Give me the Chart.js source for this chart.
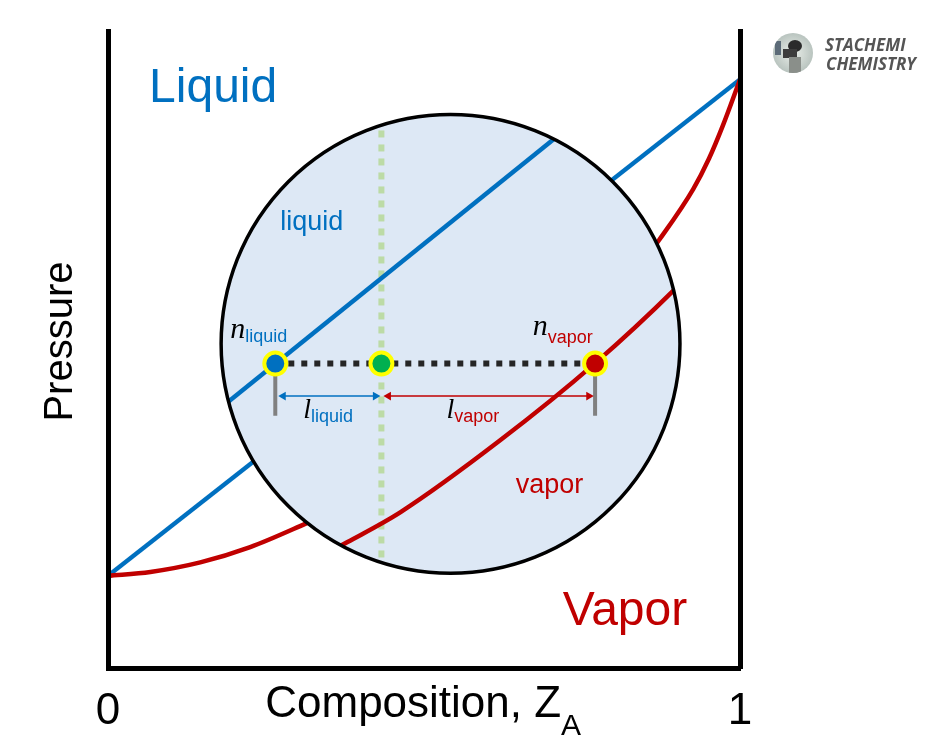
<!DOCTYPE html>
<html>
<head>
<meta charset="utf-8">
<script src="https://cdn.jsdelivr.net/npm/chart.js@4.4.1/dist/chart.umd.min.js"></script>
<style>
  body { margin: 0; background: #fff; }
  #wrap { width: 934px; height: 755px; }
</style>
</head>
<body>
<div id="wrap"><canvas id="myChart"></canvas></div>
<script>
// full diagram: bubble (liquid) line and dew (vapor) curve
const liquidX = [0, 1];
const liquidP = [0.145, 0.924];
const vaporX = [0, 0.067, 0.146, 0.225, 0.304, 0.45, 0.6, 0.75, 0.872, 0.926, 0.951, 0.973, 1];
const vaporP = [0.145, 0.151, 0.166, 0.19, 0.223, 0.29, 0.38, 0.51, 0.672, 0.752, 0.8, 0.852, 0.924];

// magnified view inside the lens
const lensLiqX = [0.15, 0.80];
const lensLiqP = [0.386, 0.906];
const lensVapX = [0.33, 0.379, 0.463, 0.621, 0.77, 0.895, 0.94];
const lensVapP = [0.172, 0.198, 0.245, 0.358, 0.478, 0.593, 0.64];
const lensCenter = [0.542, 0.509];
const lensRadius = 0.363; // in composition units

// tie line: n_liquid, overall Z_A, n_vapor
const tieX = [0.2647, 0.4326, 0.7707];
const tieP = 0.478;
const tieColors = ['#0070c0', '#00b050', '#c00000'];
const guideP = [0.02, 0.98];
const leverP = [0.478, 0.396];
const arrowP = 0.427;
const liqArrowX = [0.2773, 0.4231];
const vapArrowX = [0.4437, 0.7607];

const xTickValues = [0, 1];
const xTickLabels = ['0', '1'];

const BLUE = '#0070c0', RED = '#c00000';
const SANS = '"Liberation Sans", Arial, sans-serif';
const SERIF = '"Liberation Serif", "Times New Roman", serif';

const pts = (xs, ys) => xs.map((x, i) => ({x: x, y: Array.isArray(ys) ? ys[i] : ys}));

const line = (data, color, width, order, extra) => Object.assign({
  type: 'line', data: data, borderColor: color, borderWidth: width, pointRadius: 0,
  fill: false, order: order
}, extra || {});

const datasets = [
  line(pts(liquidX, liquidP), BLUE, 4.5, 20),
  line(pts(vaporX, vaporP), RED, 4.5, 19, {cubicInterpolationMode: 'monotone'}),
  line(pts([tieX[1], tieX[1]], guideP), '#bcdba6', 6, 15, {borderDash: [7, 7], inLens: true, lensFill: true}),
  line(pts(lensLiqX, lensLiqP), BLUE, 4.5, 14, {inLens: true}),
  line(pts(lensVapX, lensVapP), RED, 4.5, 13, {cubicInterpolationMode: 'monotone', inLens: true, lensStroke: true}),
  line(pts([tieX[0], tieX[0]], leverP), '#808080', 4, 12),
  line(pts([tieX[2], tieX[2]], leverP), '#808080', 4, 12),
  line(pts(liqArrowX, arrowP), BLUE, 1.5, 11, {pointStyle: 'triangle', pointRadius: 5,
    pointRotation: [-90, 90], pointBackgroundColor: BLUE, pointBorderWidth: 0}),
  line(pts(vapArrowX, arrowP), RED, 1.5, 11, {pointStyle: 'triangle', pointRadius: 5,
    pointRotation: [-90, 90], pointBackgroundColor: RED, pointBorderWidth: 0}),
  line(pts(tieX, tieP), '#262626', 6, 10, {borderDash: [6, 7], borderCapStyle: 'butt'}),
  {type: 'scatter', data: pts(tieX, tieP), pointRadius: 11, pointBorderWidth: 4,
    pointBackgroundColor: tieColors, pointBorderColor: '#ffff00', showLine: false, order: 0}
];

let lensPath = (chart) => {
  const xs = chart.scales.x, ys = chart.scales.y;
  const cx = xs.getPixelForValue(lensCenter[0]);
  const cy = ys.getPixelForValue(lensCenter[1]);
  const r = xs.getPixelForValue(lensCenter[0] + lensRadius) - cx;
  chart.ctx.beginPath();
  chart.ctx.arc(cx, cy, r, 0, Math.PI * 2);
};

// main text plus subscript
let subText = (ctx, x, y, main, mainFont, mainColor, sub, subFont, subColor, dy) => {
  ctx.font = mainFont; ctx.fillStyle = mainColor;
  ctx.fillText(main, x, y);
  const w = ctx.measureText(main).width;
  ctx.font = subFont; ctx.fillStyle = subColor;
  ctx.fillText(sub, x + w, y + dy);
};

const decor = {
  id: 'decor',
  beforeDatasetDraw(chart, args) {
    const ds = chart.data.datasets[args.index];
    if (!ds.inLens) return;
    const ctx = chart.ctx;
    if (ds.lensFill) {
      lensPath(chart);
      ctx.fillStyle = '#dde8f5';
      ctx.fill();
    }
    ctx.save();
    lensPath(chart);
    ctx.clip();
  },
  afterDatasetDraw(chart, args) {
    const ds = chart.data.datasets[args.index];
    if (!ds.inLens) return;
    const ctx = chart.ctx;
    ctx.restore();
    if (ds.lensStroke) {
      lensPath(chart);
      ctx.strokeStyle = '#000';
      ctx.lineWidth = 3.5;
      ctx.stroke();
    }
  },
  afterDraw(chart) {
    const ctx = chart.ctx;
    const X = (v) => chart.scales.x.getPixelForValue(v);
    const Y = (v) => chart.scales.y.getPixelForValue(v);
    ctx.save();
    ctx.textAlign = 'left';
    ctx.textBaseline = 'alphabetic';

    ctx.font = '48px ' + SANS; ctx.fillStyle = BLUE;
    ctx.fillText('Liquid', X(0.065), Y(0.889));
    ctx.fillStyle = RED;
    ctx.fillText('Vapor', X(0.7195), Y(0.0675));

    ctx.font = '27px ' + SANS; ctx.fillStyle = BLUE;
    ctx.fillText('liquid', X(0.2726), Y(0.6876));
    ctx.fillStyle = RED;
    ctx.fillText('vapor', X(0.645), Y(0.2747));

    subText(ctx, X(0.1933), Y(0.518), 'n', 'italic 30px ' + SERIF, '#000',
      'liquid', '18px ' + SANS, BLUE, 4);
    subText(ctx, X(0.672), Y(0.5228), 'n', 'italic 30px ' + SERIF, '#000',
      'vapor', '18px ' + SANS, RED, 8);
    subText(ctx, X(0.309), Y(0.392), 'l', 'italic 28px ' + SERIF, '#000',
      'liquid', '18px ' + SANS, BLUE, 4);
    subText(ctx, X(0.5357), Y(0.392), 'l', 'italic 28px ' + SERIF, '#000',
      'vapor', '18px ' + SANS, RED, 4);

    // axis titles
    subText(ctx, X(0.2488), Y(-0.0769), 'Composition, Z', '44px ' + SANS, '#000',
      'A', '30px ' + SANS, '#000', 18);
    ctx.save();
    ctx.translate(X(-0.057), Y(0.5126));
    ctx.rotate(-Math.PI / 2);
    ctx.textAlign = 'center';
    ctx.font = '40px ' + SANS; ctx.fillStyle = '#000';
    ctx.fillText('Pressure', 0, 0);
    ctx.restore();

    // logo
    const lx = 793, ly = 53;
    ctx.save();
    ctx.beginPath(); ctx.arc(lx, ly, 20, 0, Math.PI * 2); ctx.clip();
    const g = ctx.createRadialGradient(lx, ly, 2, lx, ly, 20);
    g.addColorStop(0, '#e6ebe6'); g.addColorStop(1, '#b9c4bf');
    ctx.fillStyle = g; ctx.fillRect(lx - 20, ly - 20, 40, 40);
    ctx.fillStyle = '#2b2b2b';
    ctx.beginPath(); ctx.ellipse(lx + 2, ly - 7, 7, 6, 0, 0, Math.PI * 2); ctx.fill();
    ctx.fillStyle = '#3d3d3d'; ctx.fillRect(lx - 10, ly - 4, 14, 9);
    ctx.fillStyle = '#8a8f8a'; ctx.fillRect(lx - 4, ly + 4, 12, 16);
    ctx.fillStyle = '#5c6b78'; ctx.fillRect(lx - 18, ly - 12, 6, 14);
    ctx.restore();
    ctx.font = 'italic bold 17px "Open Sans", ' + SANS;
    ctx.fillStyle = '#555555';
    ctx.fillText('STACHEMI', 825, 51, 88);
    ctx.fillText('CHEMISTRY', 826, 70, 94);
    ctx.restore();
  }
};

const axisBorder = {display: true, width: 5, color: '#000', z: 1};

const config = {
  type: 'line',
  data: {datasets: datasets},
  options: {
    responsive: true,
    maintainAspectRatio: false,
    animation: false,
    events: [],
    layout: {padding: {left: 108, right: 194, top: 31, bottom: 0}},
    plugins: {legend: {display: false}, tooltip: {enabled: false}},
    scales: {
      x: {
        type: 'linear', min: 0, max: 1,
        grid: {display: false, drawTicks: false},
        border: axisBorder,
        afterBuildTicks: (scale) => { scale.ticks = xTickValues.map(v => ({value: v})); },
        ticks: {
          padding: 17, color: '#000', maxRotation: 0, autoSkip: false,
          font: {family: SANS, size: 44},
          callback: (v, i) => xTickLabels[i]
        }
      },
      y: {
        type: 'linear', min: 0, max: 1, position: 'left',
        grid: {display: false, drawTicks: false},
        border: axisBorder,
        ticks: {display: false}
      },
      y2: {
        type: 'linear', min: 0, max: 1, position: 'right',
        grid: {display: false, drawTicks: false},
        border: axisBorder,
        ticks: {display: false}
      }
    }
  },
  plugins: [decor]
};

const chart = new Chart(document.getElementById('myChart'), config);
</script>
</body>
</html>
